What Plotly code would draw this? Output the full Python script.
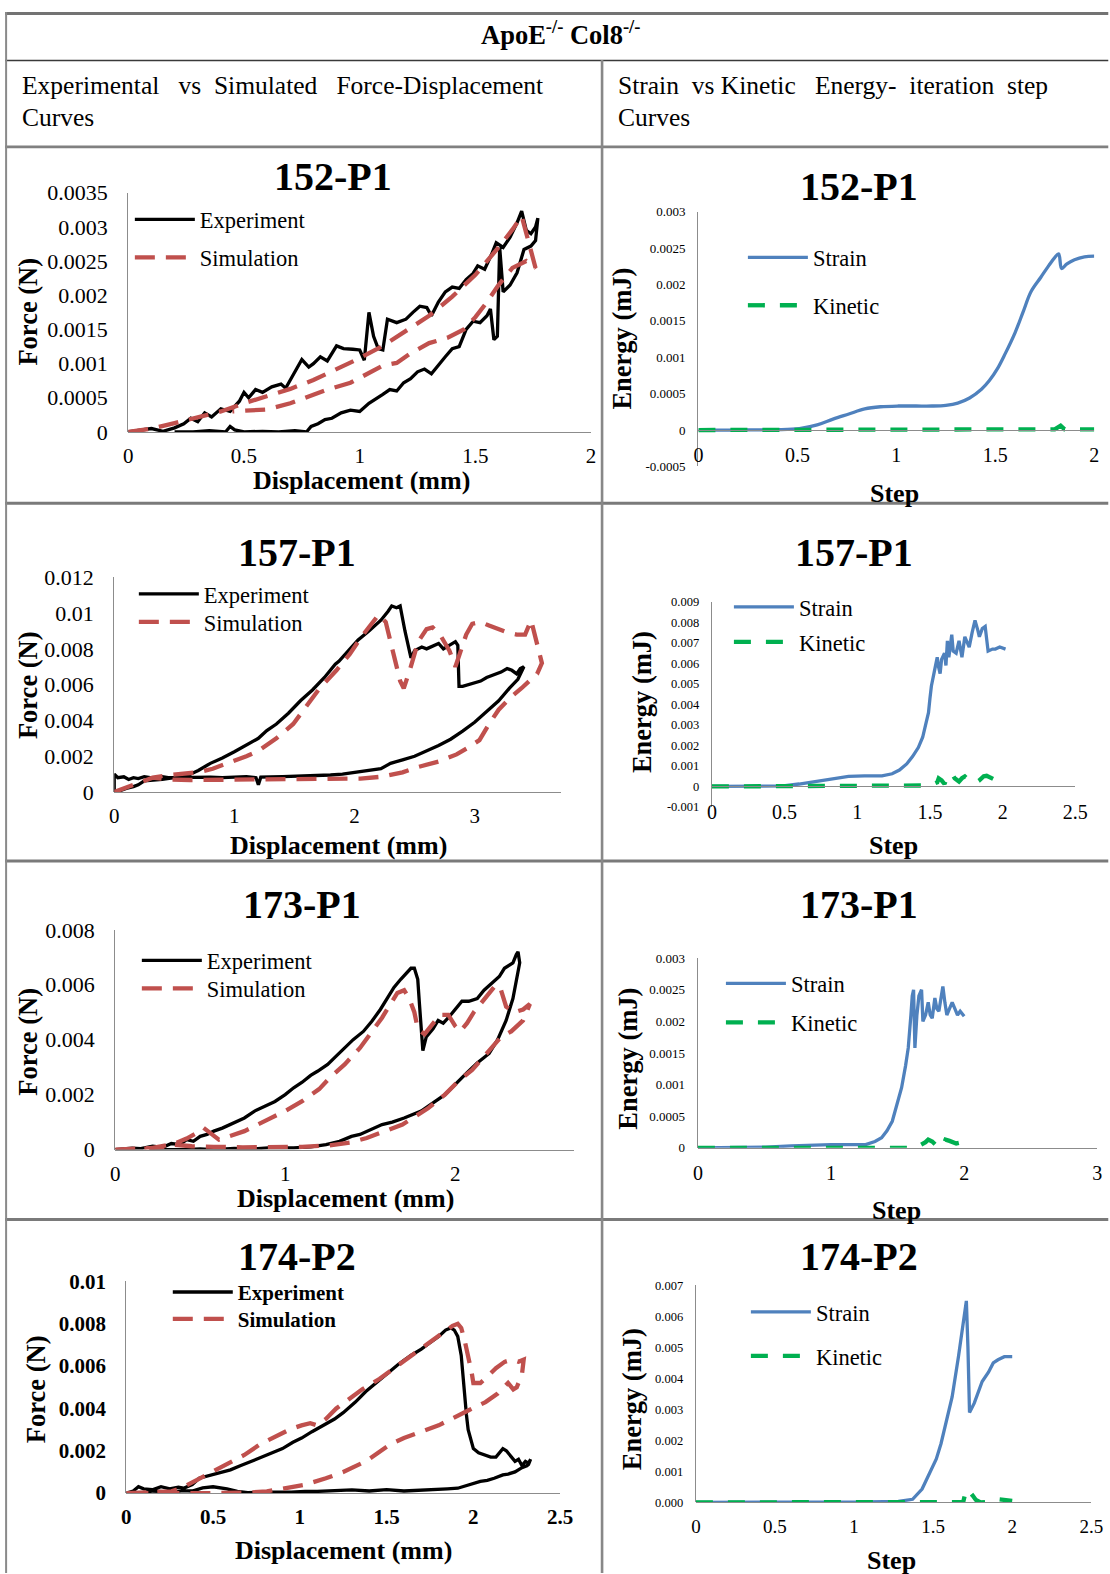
import plotly.graph_objects as go

# The photographed page shows the figure slightly scaled and offset; the layout
# helpers below convert target picture pixels into figure pixels.
K = 0.9855
OX, OY = 5.0, 11.0
W, H = 1122, 1586
FONT = "Times New Roman, Liberation Serif, serif"

def FX(v):
    return (v - OX) / K

def FY(v):
    return (v - OY) / K

def PX(v):
    return FX(v) / W

def PY(v):
    return 1 - FY(v) / H

# ---------------- DATA ----------------
# 152-P1 force-displacement
c1_exp_x = [0, 0.05, 0.1, 0.15, 0.2, 0.24, 0.27, 0.3, 0.33, 0.36, 0.4, 0.44, 0.48, 0.5, 0.52, 0.55, 0.58, 0.62, 0.66, 0.68,
            0.72, 0.75, 0.78, 0.8, 0.83, 0.86, 0.9, 0.93, 0.97, 1.0, 1.02, 1.04, 1.06, 1.08, 1.1, 1.12, 1.16, 1.2, 1.23, 1.26,
            1.29, 1.31, 1.34, 1.37, 1.4, 1.43, 1.46, 1.49, 1.51, 1.54, 1.57, 1.59, 1.62, 1.65, 1.68, 1.7, 1.72, 1.74, 1.76, 1.77,
            1.76, 1.74, 1.71, 1.68, 1.65, 1.62, 1.605, 1.595, 1.58, 1.565, 1.55, 1.52, 1.49, 1.46, 1.43, 1.4, 1.37, 1.34, 1.31, 1.28,
            1.25, 1.22, 1.19, 1.16, 1.13, 1.1, 1.07, 1.04, 1.0, 0.96, 0.92, 0.88, 0.85, 0.82, 0.79, 0.77, 0.72, 0.65, 0.58, 0.5,
            0.46, 0.44, 0.42, 0.35, 0.28, 0.2]
c1_exp_y = [0, 0.00002, 0.00005, 0.00001, 0.00006, 0.00012, 0.0002, 0.00015, 0.00028, 0.00022, 0.00034, 0.0003, 0.00045, 0.00058, 0.0005, 0.00062, 0.00058, 0.00066, 0.0007, 0.00064,
            0.00088, 0.00106, 0.00095, 0.001, 0.0011, 0.00104, 0.00126, 0.00122, 0.00121, 0.0012, 0.00105, 0.00175, 0.0014, 0.00122, 0.0012, 0.00165, 0.0016, 0.00165, 0.00175, 0.00184,
            0.00182, 0.0017, 0.0019, 0.00205, 0.00212, 0.0021, 0.00223, 0.00232, 0.00243, 0.00238, 0.0026, 0.00277, 0.0027, 0.00285, 0.00306, 0.00323, 0.00295, 0.0029, 0.003, 0.00313,
            0.0028, 0.00272, 0.00267, 0.00233, 0.00215, 0.00205, 0.0027, 0.0014, 0.00135, 0.0018, 0.0017, 0.0016, 0.00162, 0.0015, 0.00125, 0.00122, 0.0011, 0.00098, 0.00085, 0.00092,
            0.00088, 0.00078, 0.00072, 0.0006, 0.00062, 0.00055, 0.00048, 0.00042, 0.0003, 0.00032, 0.00028, 0.0002, 0.00018, 0.00012, 0.00008, 0.0, 0.00002, 0.0, 0.00001, 0.0,
            0.00003, 0.00008, 0.0, 0.00002, 0.0, 0.0]
c1_sim_x = [0, 0.1, 0.2, 0.3, 0.4, 0.5, 0.6, 0.7, 0.8, 0.9, 1.0, 1.1, 1.2, 1.3, 1.4, 1.5, 1.6, 1.66, 1.7, 1.72, 1.74, 1.76,
            1.72, 1.66, 1.6, 1.55, 1.5, 1.45, 1.38, 1.3, 1.22, 1.16, 1.1, 1.03, 0.96, 0.86, 0.78, 0.7, 0.6, 0.5, 0.45]
c1_sim_y = [0, 0.00005, 0.00013, 0.00022, 0.0003, 0.00042, 0.00052, 0.00063, 0.00076, 0.00092, 0.00108, 0.00126, 0.00148, 0.0017, 0.00198, 0.0023, 0.0027, 0.00296, 0.00316, 0.0029, 0.0026, 0.0024,
            0.0025, 0.0024, 0.00215, 0.0019, 0.00168, 0.0015, 0.00138, 0.0013, 0.00115, 0.00101, 0.00097, 0.00085, 0.00072, 0.00062, 0.00052, 0.00042, 0.00033, 0.0003, 0.0003]

# 152-P1 energy
c2_strain_x = [0, 0.1, 0.2, 0.3, 0.4, 0.51, 0.6, 0.68, 0.76, 0.84, 0.92, 1.01, 1.1, 1.18, 1.25, 1.31, 1.37, 1.43, 1.47, 1.51,
               1.55, 1.6, 1.64, 1.68, 1.73, 1.77, 1.8, 1.82, 1.835, 1.86, 1.9, 1.95, 2.0]
c2_strain_y = [0, 0, 0, 0.000003, 0.000005, 0.00002, 0.00007, 0.00015, 0.00022, 0.00029, 0.00032, 0.00033, 0.00033, 0.00033, 0.00034, 0.00037, 0.00044, 0.00056, 0.00068, 0.00084,
               0.00105, 0.00134, 0.00162, 0.0019, 0.0021, 0.00226, 0.00237, 0.00242, 0.00222, 0.00228, 0.00234, 0.00238, 0.00239]
c2_kin_x = [0, 0.25, 0.5, 0.75, 1.0, 1.25, 1.5, 1.7, 1.8, 1.83, 1.85, 1.9, 2.0]
c2_kin_y = [0, 0, 0, 0, 0, 0, 0, 0, 0.00001, 0.00006, 0.00001, 0.00001, 0.00001]

# 157-P1 force-displacement
c3_exp_x = [0, 0, 0.03, 0.08, 0.12, 0.16, 0.2, 0.25, 0.3, 0.35, 0.4, 0.45, 0.5, 0.55, 0.6, 0.65, 0.7, 0.8, 0.9, 1.0,
            1.1, 1.2, 1.27, 1.35, 1.45, 1.55, 1.65, 1.75, 1.84, 1.87, 1.95, 2.03, 2.12, 2.22, 2.28, 2.31, 2.35, 2.38, 2.42, 2.47,
            2.5, 2.56, 2.6, 2.66, 2.7, 2.74, 2.79, 2.84, 2.86, 2.87, 2.9, 2.95, 3.0, 3.05, 3.1, 3.17, 3.22, 3.27, 3.31, 3.35,
            3.38, 3.41, 3.36, 3.29, 3.2, 3.1, 3.0, 2.9, 2.8, 2.7, 2.6, 2.5, 2.4, 2.3, 2.22, 2.12, 2.03, 1.9, 1.8, 1.7,
            1.6, 1.5, 1.4, 1.3, 1.22, 1.2, 1.18, 1.1, 1.0, 0.9, 0.8, 0.7, 0.6, 0.5, 0.4, 0.3, 0.25, 0.2, 0.16, 0.1, 0.06, 0]
c3_exp_y = [0, 0.001, 0.0008, 0.00085, 0.0007, 0.0008, 0.00075, 0.00085, 0.0008, 0.00078, 0.00085, 0.0008, 0.00082, 0.00085, 0.0009, 0.00105, 0.0012, 0.0016, 0.0019, 0.00225,
            0.0026, 0.003, 0.00343, 0.0038, 0.0044, 0.0051, 0.0057, 0.0064, 0.00714, 0.0073, 0.0079, 0.0085, 0.009, 0.0096, 0.0101, 0.0104, 0.0103, 0.0104, 0.009, 0.0075,
            0.0079, 0.0081, 0.008, 0.0082, 0.0083, 0.008, 0.0082, 0.0084, 0.0082, 0.0059, 0.0059, 0.006, 0.0061, 0.0062, 0.0064, 0.0066, 0.0067, 0.0069, 0.0068, 0.0066,
            0.0069, 0.007, 0.0063, 0.0058, 0.0051, 0.0045, 0.0039, 0.0034, 0.00295, 0.0026, 0.0023, 0.002, 0.0018, 0.0016, 0.0013, 0.0012, 0.0011, 0.001, 0.00095, 0.00092,
            0.0009, 0.00088, 0.00086, 0.00085, 0.00083, 0.0004, 0.0008, 0.00086, 0.00084, 0.0008, 0.00083, 0.00082, 0.00085, 0.0008, 0.0007, 0.00065, 0.00062, 0.0004, 0.0003, 0.0002, 0.0001, 0]
c3_sim_x = [0, 0.1, 0.2, 0.32, 0.45, 0.57, 0.7, 0.82, 0.95, 1.1, 1.2, 1.35, 1.49, 1.6, 1.71, 1.85, 1.96, 2.05, 2.15, 2.2,
            2.26, 2.3, 2.34, 2.38, 2.41, 2.46, 2.53, 2.6, 2.65, 2.72, 2.79, 2.84, 2.88, 2.93, 2.98, 3.05, 3.12, 3.2, 3.28, 3.35,
            3.42, 3.47, 3.5, 3.53, 3.56, 3.52, 3.46, 3.39, 3.3, 3.2, 3.12, 3.04, 2.95, 2.85, 2.7, 2.53, 2.4, 2.22, 2.05, 1.9,
            1.6, 1.27, 0.9, 0.63, 0.45, 0.32]
c3_sim_y = [0, 0.00025, 0.0005, 0.0008, 0.00095, 0.001, 0.0011, 0.0013, 0.0016, 0.002, 0.0023, 0.003, 0.0038, 0.0048, 0.0058, 0.0068, 0.0077, 0.0086, 0.0095, 0.0099,
            0.0095, 0.0085, 0.0073, 0.0062, 0.0058, 0.0068, 0.0084, 0.0091, 0.0092, 0.0087, 0.0079, 0.007, 0.0078, 0.0088, 0.0094, 0.0095, 0.0093, 0.0091, 0.0089, 0.0088,
            0.0088, 0.0096, 0.0088, 0.0078, 0.0072, 0.0066, 0.0062, 0.0058, 0.0053, 0.0046, 0.0038, 0.0029, 0.0025, 0.0021, 0.0017, 0.0014, 0.0011, 0.00085, 0.00075, 0.00074,
            0.0007, 0.00067, 0.00066, 0.00067, 0.0007, 0.0008]

# 157-P1 energy
c4_strain_x = [0, 0.26, 0.4, 0.49, 0.6, 0.71, 0.82, 0.94, 1.05, 1.17, 1.24, 1.29, 1.34, 1.38, 1.42, 1.45, 1.47, 1.49, 1.5, 1.51,
               1.53, 1.54, 1.55, 1.56, 1.57, 1.58, 1.6, 1.61, 1.62, 1.63, 1.65, 1.66, 1.68, 1.7, 1.71, 1.72, 1.74, 1.76, 1.77, 1.79,
               1.81, 1.83, 1.84, 1.86, 1.88, 1.89, 1.9, 1.93, 1.95, 1.98, 2.02]
c4_strain_y = [0, 0, 0.00001, 0.00003, 0.00012, 0.00024, 0.00037, 0.00049, 0.00052, 0.00052, 0.00062, 0.0008, 0.0011, 0.00146, 0.0019, 0.0024, 0.003, 0.0036, 0.0043, 0.0049,
               0.0056, 0.006, 0.0063, 0.0058, 0.0055, 0.0062, 0.0065, 0.0059, 0.0071, 0.0063, 0.0074, 0.0066, 0.0065, 0.0071, 0.0066, 0.0063, 0.0073, 0.0069, 0.0068, 0.0075,
               0.0081, 0.0076, 0.0073, 0.0077, 0.0078, 0.0072, 0.0066, 0.0067, 0.0067, 0.0068, 0.0067]
c4_kin_x = [0, 0.5, 1.0, 1.45, 1.5, 1.55, 1.56, 1.58, 1.6, 1.62, 1.65, 1.67, 1.7, 1.72, 1.74, 1.77, 1.79, 1.81, 1.84, 1.87,
            1.89, 1.92, 1.95]
c4_kin_y = [0, 0, 0, 0, 0.00005, 0.0002, 0.0004, 0.0003, 0.00012, 0.0005, 0.00065, 0.0004, 0.00024, 0.0004, 0.00049, 0.0003, 0.00022, 0.00016, 0.0003, 0.0005,
            0.00052, 0.0004, 0.00032]

# 173-P1 force-displacement
c5_exp_x = [0, 0.05, 0.1, 0.15, 0.22, 0.28, 0.33, 0.38, 0.42, 0.46, 0.5, 0.54, 0.58, 0.63, 0.68, 0.72, 0.76, 0.82, 0.88, 0.94,
            1.0, 1.05, 1.1, 1.15, 1.19, 1.25, 1.3, 1.35, 1.4, 1.46, 1.51, 1.56, 1.6, 1.64, 1.68, 1.71, 1.74, 1.76, 1.78, 1.79,
            1.8, 1.81, 1.83, 1.87, 1.9, 1.93, 1.96, 2.0, 2.04, 2.08, 2.13, 2.17, 2.22, 2.26, 2.29, 2.32, 2.34, 2.36, 2.37, 2.38,
            2.36, 2.34, 2.3, 2.25, 2.2, 2.13, 2.07, 2.0, 1.94, 1.87, 1.8, 1.7, 1.63, 1.57, 1.5, 1.44, 1.39, 1.32, 1.24, 1.15,
            1.05, 0.9, 0.8, 0.7, 0.58, 0.5, 0.4, 0.3, 0.2]
c5_exp_y = [0, 0.00002, 0.00005, 0.00003, 0.00012, 0.00008, 0.00022, 0.00018, 0.00036, 0.0003, 0.00048, 0.00055, 0.00067, 0.00078, 0.00092, 0.00105, 0.00115, 0.0014, 0.00158, 0.00175,
            0.002, 0.00225, 0.00245, 0.0027, 0.00285, 0.0031, 0.0034, 0.0037, 0.004, 0.0043, 0.00467, 0.0051, 0.0055, 0.0059, 0.0062, 0.00642, 0.0066, 0.0066, 0.0062, 0.0053,
            0.0043, 0.0036, 0.0041, 0.0044, 0.0047, 0.0046, 0.0048, 0.0051, 0.0054, 0.0054, 0.0055, 0.0058, 0.0061, 0.0063, 0.0066, 0.0067, 0.0068, 0.0071, 0.0072, 0.0068,
            0.0062, 0.0055, 0.0047, 0.004, 0.0035, 0.00315, 0.0028, 0.00236, 0.002, 0.0017, 0.0014, 0.00115, 0.001, 0.00091, 0.0007, 0.00055, 0.00048, 0.0003, 0.00018, 0.0001,
            0.00006, 0.00006, 0.00002, 0.00004, 0.0, 0.00002, 0.0, 0.0, 0.0]
c5_sim_x = [0, 0.1, 0.22, 0.3, 0.36, 0.42, 0.48, 0.52, 0.56, 0.61, 0.68, 0.76, 0.9, 1.0, 1.1, 1.2, 1.26, 1.35, 1.44, 1.5,
            1.57, 1.62, 1.66, 1.7, 1.73, 1.76, 1.78, 1.82, 1.87, 1.91, 1.96, 2.0, 2.03, 2.07, 2.11, 2.16, 2.2, 2.24, 2.27, 2.3,
            2.35, 2.4, 2.44, 2.4, 2.33, 2.27, 2.2, 2.16, 2.1, 2.02, 1.94, 1.84, 1.76, 1.69, 1.6, 1.48, 1.38, 1.26, 1.1, 0.9,
            0.75, 0.58, 0.45, 0.34, 0.3, 0.2, 0.1, 0]
c5_sim_y = [0, 0.00002, 0.00006, 0.00015, 0.00024, 0.0004, 0.0006, 0.00079, 0.0006, 0.00036, 0.0005, 0.00067, 0.0011, 0.0014, 0.00176, 0.0022, 0.0026, 0.0031, 0.0037, 0.0042,
            0.0048, 0.0053, 0.0057, 0.0058, 0.0055, 0.005, 0.0044, 0.0042, 0.0046, 0.0049, 0.0049, 0.0045, 0.0043, 0.0046, 0.005, 0.0054, 0.0057, 0.006, 0.0058, 0.0052,
            0.005, 0.0051, 0.0053, 0.0047, 0.0043, 0.0041, 0.0036, 0.0033, 0.0029, 0.0025, 0.002, 0.0015, 0.0012, 0.00091, 0.0007, 0.00042, 0.00025, 0.00015, 0.0001, 0.00008,
            0.00008, 0.0001, 0.00012, 0.00018, 0.0001, 0.00005, 0.0, 0]

# 173-P1 energy
c6_strain_x = [0, 0.3, 0.51, 0.7, 1.0, 1.26, 1.33, 1.38, 1.42, 1.46, 1.5, 1.53, 1.56, 1.58, 1.6, 1.61, 1.62, 1.63, 1.645, 1.66,
               1.68, 1.69, 1.71, 1.73, 1.745, 1.76, 1.78, 1.795, 1.81, 1.825, 1.84, 1.855, 1.87, 1.89, 1.91, 1.93, 1.95, 1.97, 2.0]
c6_strain_y = [0, 0, 0.00001, 0.00003, 0.00005, 0.00005, 0.0001, 0.00016, 0.00027, 0.00042, 0.0007, 0.00095, 0.0013, 0.00158, 0.0021, 0.0024, 0.0025, 0.00158, 0.0021, 0.0024,
               0.0025, 0.002, 0.0021, 0.0023, 0.0021, 0.00205, 0.00237, 0.0022, 0.00216, 0.0024, 0.00255, 0.0023, 0.0021, 0.0022, 0.0023, 0.0022, 0.0021, 0.00216, 0.00208]
c6_kin_x = [0, 0.5, 1.0, 1.5, 1.62, 1.65, 1.68, 1.71, 1.73, 1.76, 1.8, 1.83, 1.85, 1.86, 1.89, 1.91, 1.94, 1.96]
c6_kin_y = [0, 0, 0, 0, 0, 0.00002, 0.00005, 0.00009, 0.00013, 0.0001, 0.00002, 0.0, 0.00008, 0.00013, 0.00011, 0.0001, 0.00007, 0.00008]

# 174-P2 force-displacement
c7_exp_x = [0, 0.04, 0.07, 0.1, 0.15, 0.2, 0.25, 0.3, 0.33, 0.38, 0.42, 0.47, 0.51, 0.55, 0.6, 0.66, 0.72, 0.78, 0.84, 0.9,
            0.96, 1.01, 1.07, 1.14, 1.2, 1.25, 1.32, 1.38, 1.44, 1.51, 1.57, 1.64, 1.7, 1.75, 1.8, 1.84, 1.87, 1.89, 1.91, 1.93,
            1.94, 1.95, 1.96, 1.97, 1.98, 2.0, 2.03, 2.06, 2.1, 2.13, 2.15, 2.17, 2.19, 2.21, 2.24, 2.26, 2.28, 2.3, 2.32, 2.33,
            2.31, 2.28, 2.24, 2.2, 2.17, 2.12, 2.08, 2.04, 1.98, 1.91, 1.85, 1.8, 1.69, 1.6, 1.5, 1.4, 1.3, 1.2, 1.1, 1.03,
            0.95, 0.81, 0.7, 0.64, 0.58, 0.5, 0.44, 0.38, 0.33, 0.25, 0.15, 0.1, 0]
c7_exp_y = [0, 0.0001, 0.0003, 0.0002, 0.00016, 0.0003, 0.0002, 0.00028, 0.00023, 0.0004, 0.0007, 0.0008, 0.0009, 0.001, 0.0011, 0.0013, 0.0015, 0.0017, 0.0019, 0.0021,
            0.0024, 0.0026, 0.0029, 0.0032, 0.0035, 0.0038, 0.0043, 0.0048, 0.0052, 0.0057, 0.0061, 0.0065, 0.0068, 0.0071, 0.0074, 0.0077, 0.0078, 0.0077, 0.0074, 0.0065,
            0.0055, 0.0045, 0.0037, 0.003, 0.0027, 0.0021, 0.0019, 0.0018, 0.0017, 0.0017, 0.0019, 0.0021, 0.002, 0.0018, 0.0015, 0.0016, 0.0013, 0.0015, 0.0014, 0.0016,
            0.0013, 0.0012, 0.001, 0.0009, 0.00086, 0.0007, 0.0006, 0.00055, 0.0004, 0.00023, 0.0002, 0.00018, 0.00016, 0.0001, 0.00016, 0.0001, 0.00015, 0.0001, 0.00008, 0.00008,
            0.00004, 0.00005, 0.00002, 0.00008, 0.0002, 0.0003, 0.00025, 0.0001, 0.00012, 0.00005, 0.0001, 0.0, 0]
c7_sim_x = [0, 0.15, 0.26, 0.32, 0.37, 0.43, 0.5, 0.58, 0.68, 0.77, 0.86, 0.94, 1.01, 1.06, 1.1, 1.15, 1.21, 1.28, 1.36, 1.46,
            1.56, 1.64, 1.71, 1.78, 1.84, 1.88, 1.91, 1.93, 1.95, 1.97, 1.99, 2.0, 2.04, 2.08, 2.13, 2.18, 2.22, 2.26, 2.29, 2.28,
            2.25, 2.23, 2.2, 2.14, 2.07, 1.97, 1.88, 1.8, 1.7, 1.6, 1.52, 1.47, 1.38, 1.25, 1.15, 1.03, 0.9, 0.81, 0.7, 0.59,
            0.45, 0.3, 0.15, 0]
c7_sim_y = [0, 0.00002, 0.00008, 0.00025, 0.00047, 0.0007, 0.001, 0.0014, 0.0018, 0.0023, 0.0027, 0.003, 0.0032, 0.0033, 0.0032, 0.0035, 0.004, 0.0044, 0.0049, 0.0054,
            0.006, 0.0065, 0.0069, 0.0073, 0.0077, 0.0079, 0.008, 0.0078, 0.0072, 0.0065, 0.0057, 0.0052, 0.0052, 0.0055, 0.0059, 0.0062, 0.0063, 0.0062, 0.0063, 0.0056,
            0.005, 0.0049, 0.0052, 0.0047, 0.0043, 0.0039, 0.0035, 0.0032, 0.0029, 0.0026, 0.0023, 0.002, 0.0015, 0.001, 0.0007, 0.0004, 0.0002, 0.00008, 0.00002, 0.0,
            0.0, 0.0, 0.0, 0]

# 174-P2 energy
c8_strain_x = [0, 0.5, 1.0, 1.28, 1.37, 1.43, 1.49, 1.52, 1.55, 1.59, 1.62, 1.66, 1.69, 1.71, 1.72, 1.73, 1.76, 1.81, 1.85, 1.88,
               1.91, 1.95, 2.0]
c8_strain_y = [0, 0, 0.00001, 0.00003, 0.0001, 0.00043, 0.0011, 0.0014, 0.0019, 0.0027, 0.0034, 0.0047, 0.0058, 0.0065, 0.005, 0.0029, 0.0032, 0.0039, 0.0042, 0.0045,
               0.0046, 0.0047, 0.0047]
c8_kin_x = [0, 0.5, 1.0, 1.5, 1.69, 1.71, 1.73, 1.75, 1.77, 1.8, 1.86, 1.91, 1.96, 2.0]
c8_kin_y = [0, 0, 0, 0, 0.00001, 0.00043, 0.00035, 0.00022, 0.00008, 0.0, 0.00002, 0.0001, 0.00008, 0.00005]

# tick values / labels
c1_yticks = [0, 0.0005, 0.001, 0.0015, 0.002, 0.0025, 0.003, 0.0035]
c1_ylabels = ["0", "0.0005", "0.001", "0.0015", "0.002", "0.0025", "0.003", "0.0035"]
c1_xticks = [0, 0.5, 1, 1.5, 2]
c1_xlabels = ["0", "0.5", "1", "1.5", "2"]
c2_yticks = [-0.0005, 0, 0.0005, 0.001, 0.0015, 0.002, 0.0025, 0.003]
c2_ylabels = ["-0.0005", "0", "0.0005", "0.001", "0.0015", "0.002", "0.0025", "0.003"]
c2_xticks = [0, 0.5, 1, 1.5, 2]
c2_xlabels = ["0", "0.5", "1", "1.5", "2"]
c3_yticks = [0, 0.002, 0.004, 0.006, 0.008, 0.01, 0.012]
c3_ylabels = ["0", "0.002", "0.004", "0.006", "0.008", "0.01", "0.012"]
c3_xticks = [0, 1, 2, 3]
c3_xlabels = ["0", "1", "2", "3"]
c4_yticks = [-0.001, 0, 0.001, 0.002, 0.003, 0.004, 0.005, 0.006, 0.007, 0.008, 0.009]
c4_ylabels = ["-0.001", "0", "0.001", "0.002", "0.003", "0.004", "0.005", "0.006", "0.007", "0.008", "0.009"]
c4_xticks = [0, 0.5, 1, 1.5, 2, 2.5]
c4_xlabels = ["0", "0.5", "1", "1.5", "2", "2.5"]
c5_yticks = [0, 0.002, 0.004, 0.006, 0.008]
c5_ylabels = ["0", "0.002", "0.004", "0.006", "0.008"]
c5_xticks = [0, 1, 2]
c5_xlabels = ["0", "1", "2"]
c6_yticks = [0, 0.0005, 0.001, 0.0015, 0.002, 0.0025, 0.003]
c6_ylabels = ["0", "0.0005", "0.001", "0.0015", "0.002", "0.0025", "0.003"]
c6_xticks = [0, 1, 2, 3]
c6_xlabels = ["0", "1", "2", "3"]
c7_yticks = [0, 0.002, 0.004, 0.006, 0.008, 0.01]
c7_ylabels = ["0", "0.002", "0.004", "0.006", "0.008", "0.01"]
c7_xticks = [0, 0.5, 1, 1.5, 2, 2.5]
c7_xlabels = ["0", "0.5", "1", "1.5", "2", "2.5"]
c8_yticks = [0, 0.001, 0.002, 0.003, 0.004, 0.005, 0.006, 0.007]
c8_ylabels = ["0.000", "0.001", "0.002", "0.003", "0.004", "0.005", "0.006", "0.007"]
c8_xticks = [0, 0.5, 1, 1.5, 2, 2.5]
c8_xlabels = ["0", "0.5", "1", "1.5", "2", "2.5"]

sample_titles = ["152-P1", "152-P1", "157-P1", "157-P1", "173-P1", "173-P1", "174-P2", "174-P2"]

# ---------------- LAYOUT SPEC (target-picture pixel boxes) ----------------
BLACK = "#000000"
RED = "#C0504D"
BLUE = "#4F81BD"
GREEN = "#00B050"
AXC = "#8c8c8c"

charts = [
    dict(kind="fd", xd=(128.5, 592), yd=(192, 431.5), xr=[0, 2], yr=[0, 0.0035],
         xt=c1_xticks, xl=c1_xlabels, yt=c1_yticks, yl=c1_ylabels,
         s1=(c1_exp_x, c1_exp_y), s2=(c1_sim_x, c1_sim_y),
         yfs=22, xfs=21, bold=False, title=(334, 176), xtitle=(362, 480), ytitle=(28, 311),
         leg=(201, 219, 257), lfs=22.5),
    dict(kind="en", xd=(699.5, 1096), yd=(211, 466), xr=[0, 2], yr=[-0.0005, 0.003],
         xt=c2_xticks, xl=c2_xlabels, yt=c2_yticks, yl=c2_ylabels,
         s1=(c2_strain_x, c2_strain_y), s2=(c2_kin_x, c2_kin_y),
         yfs=13, xfs=20, bold=False, title=(860, 186), xtitle=(896, 493), ytitle=(623, 338),
         leg=(815, 257, 305), lfs=22.5),
    dict(kind="fd", xd=(114.4, 562), yd=(577, 792), xr=[0, 3.72], yr=[0, 0.012],
         xt=c3_xticks, xl=c3_xlabels, yt=c3_yticks, yl=c3_ylabels,
         s1=(c3_exp_x, c3_exp_y), s2=(c3_sim_x, c3_sim_y),
         yfs=22, xfs=21, bold=False, title=(297, 552), xtitle=(339, 846), ytitle=(28, 685),
         leg=(205, 594, 622), lfs=22.5),
    dict(kind="en", xd=(713, 1077), yd=(601.7, 807), xr=[0, 2.5], yr=[-0.001, 0.009],
         xt=c4_xticks, xl=c4_xlabels, yt=c4_yticks, yl=c4_ylabels,
         s1=(c4_strain_x, c4_strain_y), s2=(c4_kin_x, c4_kin_y),
         yfs=12.5, xfs=20, bold=False, title=(855, 552), xtitle=(895, 846), ytitle=(643, 702),
         leg=(801, 607, 642), lfs=22.5),
    dict(kind="fd", xd=(115.4, 575), yd=(930, 1150), xr=[0, 2.7], yr=[0, 0.008],
         xt=c5_xticks, xl=c5_xlabels, yt=c5_yticks, yl=c5_ylabels,
         s1=(c5_exp_x, c5_exp_y), s2=(c5_sim_x, c5_sim_y),
         yfs=22, xfs=21, bold=False, title=(302, 905), xtitle=(346, 1199), ytitle=(28, 1042),
         leg=(208, 961, 989), lfs=22.5),
    dict(kind="en", xd=(699, 1099), yd=(958.3, 1148.3), xr=[0, 3], yr=[0, 0.003],
         xt=c6_xticks, xl=c6_xlabels, yt=c6_yticks, yl=c6_ylabels,
         s1=(c6_strain_x, c6_strain_y), s2=(c6_kin_x, c6_kin_y),
         yfs=13, xfs=20, bold=False, title=(860, 905), xtitle=(898, 1211), ytitle=(629, 1059),
         leg=(793, 984, 1023), lfs=22.5),
    dict(kind="fd", xd=(126.5, 561), yd=(1282, 1494), xr=[0, 2.5], yr=[0, 0.01],
         xt=c7_xticks, xl=c7_xlabels, yt=c7_yticks, yl=c7_ylabels,
         s1=(c7_exp_x, c7_exp_y), s2=(c7_sim_x, c7_sim_y),
         yfs=21, xfs=21, bold=True, title=(297, 1257), xtitle=(344, 1551), ytitle=(36, 1390),
         leg=(239, 1293, 1320), lfs=21),
    dict(kind="en", xd=(697, 1093), yd=(1286, 1503.3), xr=[0, 2.5], yr=[0, 0.007],
         xt=c8_xticks, xl=c8_xlabels, yt=c8_yticks, yl=c8_ylabels,
         s1=(c8_strain_x, c8_strain_y), s2=(c8_kin_x, c8_kin_y),
         yfs=12.5, xfs=19, bold=False, title=(860, 1257), xtitle=(893, 1561), ytitle=(633, 1400),
         leg=(818, 1313, 1357), lfs=22.5),
]

fig = go.Figure()
layout = dict(width=W, height=H, margin=dict(l=0, r=0, t=0, b=0),
              paper_bgcolor="white", plot_bgcolor="rgba(0,0,0,0)",
              font=dict(family=FONT, color="black"), showlegend=True)
annotations = []
shapes = []

for i, c in enumerate(charts, start=1):
    sfx = "" if i == 1 else str(i)
    xa, ya = "x" + sfx, "y" + sfx
    ia, ib = 2 * i - 1, 2 * i
    lga = "legend" if ia == 1 else f"legend{ia}"
    lgb = f"legend{ib}"
    x0, x1 = c["xd"]
    y0, y1 = c["yd"]
    ymin, ymax = c["yr"]
    zero_px = y0 + (y1 - y0) * (ymax - 0) / (ymax - ymin)
    wt = "bold" if c["bold"] else "normal"
    layout["xaxis" + sfx] = dict(domain=[PX(x0), PX(x1)], range=c["xr"], anchor="free", position=PY(zero_px),
                                 showline=True, linecolor=AXC, linewidth=1.4, ticks="", showgrid=False,
                                 zeroline=False, tickvals=c["xt"], ticktext=c["xl"],
                                 tickfont=dict(family=FONT, size=c["xfs"], color="black", weight=wt),
                                 ticklabelstandoff=5 if c["kind"] == "fd" else 7, fixedrange=True)
    layout["yaxis" + sfx] = dict(domain=[PY(y1), PY(y0)], range=c["yr"], anchor=xa,
                                 showline=True, linecolor=AXC, linewidth=1.4, ticks="", showgrid=False,
                                 zeroline=False, tickvals=c["yt"], ticktext=c["yl"],
                                 tickfont=dict(family=FONT, size=c["yfs"], color="black", weight=wt),
                                 ticklabelstandoff=15 if c["kind"] == "fd" else 9, fixedrange=True)
    if c["kind"] == "fd":
        n1, n2 = "Experiment", "Simulation"
        l1 = dict(color=BLACK, width=3.3)
        l2 = dict(color=RED, width=4.3, dash="20px,11px")
        sh1, sh2 = "linear", "linear"
    else:
        n1, n2 = "Strain", "Kinetic"
        l1 = dict(color=BLUE, width=3.3)
        l2 = dict(color=GREEN, width=4.3, dash="17px,15px")
        sh1, sh2 = ("spline" if i == 2 else "linear"), "linear"
    l1["shape"] = sh1
    l2["shape"] = sh2
    fig.add_trace(go.Scatter(x=c["s1"][0], y=c["s1"][1], mode="lines", name=n1, line=l1,
                             xaxis=xa, yaxis=ya, legend=lga, cliponaxis=False))
    fig.add_trace(go.Scatter(x=c["s2"][0], y=c["s2"][1], mode="lines", name=n2, line=l2,
                             xaxis=xa, yaxis=ya, legend=lgb, cliponaxis=False))
    tx, ly1, ly2 = c["leg"]
    lfs = c["lfs"]
    for lgname, ly in ((lga, ly1), (lgb, ly2)):
        layout[lgname] = dict(x=(FX(tx) - 72) / W, y=PY(ly), xanchor="left", yanchor="middle",
                              bgcolor="rgba(0,0,0,0)", borderwidth=0, itemwidth=60,
                              font=dict(family=FONT, size=lfs, color="black", weight=wt))
    # titles
    annotations.append(dict(x=PX(c["title"][0]), y=PY(c["title"][1]), xref="paper", yref="paper",
                            text="<b>" + sample_titles[i - 1] + "</b>", showarrow=False,
                            font=dict(family=FONT, size=40, color="black"), xanchor="center", yanchor="middle"))
    annotations.append(dict(x=PX(c["xtitle"][0]), y=PY(c["xtitle"][1]), xref="paper", yref="paper",
                            text="<b>Displacement (mm)</b>" if c["kind"] == "fd" else "<b>Step</b>",
                            showarrow=False, font=dict(family=FONT, size=26, color="black"),
                            xanchor="center", yanchor="middle"))
    annotations.append(dict(x=PX(c["ytitle"][0]), y=PY(c["ytitle"][1]), xref="paper", yref="paper",
                            text="<b>Force (N)</b>" if c["kind"] == "fd" else "<b>Energy (mJ)</b>",
                            showarrow=False, textangle=-90, font=dict(family=FONT, size=26.5, color="black"),
                            xanchor="center", yanchor="middle"))

# table header texts
annotations.append(dict(x=PX(561), y=PY(32), xref="paper", yref="paper",
                        text="<b>ApoE<sup>-/-</sup> Col8<sup>-/-</sup></b>", showarrow=False,
                        font=dict(family=FONT, size=26.5, color="black"), xanchor="center", yanchor="middle"))
NB = "\u00a0"
hdr = [("Experimental" + NB * 3 + "vs" + NB * 2 + "Simulated" + NB * 3 + "Force-Displacement", 20, 85),
       ("Curves", 20, 117),
       ("Strain" + NB * 2 + "vs" + NB + "Kinetic" + NB * 3 + "Energy-" + NB * 2 + "iteration" + NB * 2 + "step", 617, 85),
       ("Curves", 617, 117)]
for t, hx, hy in hdr:
    annotations.append(dict(x=PX(hx), y=PY(hy), xref="paper", yref="paper", text=t, showarrow=False,
                            font=dict(family=FONT, size=25.5, color="black"), xanchor="left", yanchor="middle"))

# table rules
def hline(y, x0, x1, w, col):
    shapes.append(dict(type="line", xref="paper", yref="paper", x0=max(PX(x0), 0), x1=PX(x1),
                       y0=min(PY(y), 0.999), y1=min(PY(y), 0.999),
                       line=dict(color=col, width=w), layer="above"))

def vline(x, y0, y1, w, col):
    shapes.append(dict(type="line", xref="paper", yref="paper", x0=max(PX(x), 0.001), x1=max(PX(x), 0.001),
                       y0=min(PY(y0), 1), y1=PY(y1),
                       line=dict(color=col, width=w), layer="above"))

hline(7.5, 3, 1110, 3, "#737373")
hline(59.5, 3, 1110, 1.4, "#3a3a3a")
hline(146, 3, 1110, 2.6, "#808080")
for yy in [503, 861, 1220]:
    hline(yy, 3, 1110, 3, "#7a7a7a")
vline(3.5, 6, 1574, 2, "#8a8a8a")
vline(603, 59, 1574, 2.6, "#888888")

layout["annotations"] = annotations
layout["shapes"] = shapes
fig.update_layout(**layout)
fig.write_html("out.html", include_plotlyjs=True, config={"displayModeBar": False})
